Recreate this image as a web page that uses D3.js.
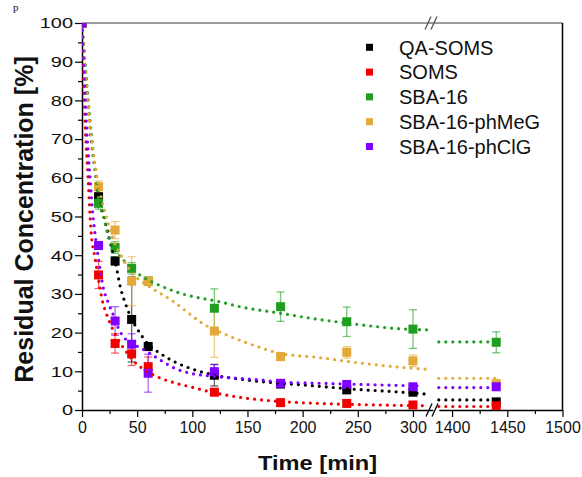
<!DOCTYPE html>
<html>
<head>
<meta charset="utf-8">
<script src="https://cdn.jsdelivr.net/npm/d3@7"></script>
<style>
  body { margin: 0; background: #fff; }
  svg { display: block; }
  text { font-family: "Liberation Sans", Arial, sans-serif; fill: #111; }
</style>
</head>
<body>
<div id="chart"></div>
<script>
// sampling times (min)
const times = [0, 15, 30, 45, 60, 120, 180, 240, 300, 1440];

const seriesNames = ['QA-SOMS', 'SOMS', 'SBA-16', 'SBA-16-phMeG', 'SBA-16-phClG'];
const seriesColors = ['#000000', '#f20000', '#1f9e22', '#e3aa3a', '#7f00ff'];

// residual concentration [%]
const qaSoms = [100, 55.1, 38.5, 23.4, 16.4, 9.0, 6.7, 5.2, 4.6, 2.1];
const soms = [100, 34.9, 17.2, 14.5, 11.2, 4.6, 1.9, 1.7, 1.3, 1.1];
const sba16 = [100, 53.4, 42.0, 36.6, 33.3, 26.3, 26.7, 22.8, 20.9, 17.5];
const sbaPhMeG = [100, 57.7, 46.5, 33.3, 33.3, 20.4, 13.8, 14.9, 12.7, 6.8];
const sbaPhClG = [100, 42.5, 23.0, 17.0, 9.5, 9.9, 6.9, 6.6, 6.0, 6.0];

// error bars (+/-)
const qaSomsErr = [0, 1.0, 1.0, 11.0, 1.0, 2.8, 0.6, 0.8, 0.6, 0.5];
const somsErr = [0, 3.5, 2.5, 3.0, 2.5, 0.8, 0.5, 0.5, 0.5, 0.3];
const sba16Err = [0, 1.5, 1.5, 1.5, 1.0, 5.0, 3.8, 3.8, 5.0, 2.7];
const sbaPhMeGErr = [0, 1.5, 2.2, 6.3, 1.0, 6.8, 1.0, 1.5, 1.5, 0.8];
const sbaPhClGErr = [0, 1.0, 3.7, 2.7, 4.9, 1.8, 0.8, 0.8, 0.5, 0.8];

// fitted curves as [time, value]
const qaSomsFit = [[0, 100], [3, 88], [6, 77], [10, 66], [15, 57], [20, 50], [25, 44], [30, 38.5], [35, 31.5],
  [40, 27], [45, 23.5], [50, 21], [60, 17], [70, 14.8], [85, 12.3], [100, 10.6], [120, 9.0], [140, 8.1],
  [160, 7.4], [180, 6.9], [200, 6.5], [220, 6.0], [250, 5.3], [280, 4.8], [313, 4.1]];
const somsFit = [[0, 100], [1.5, 85], [3, 73], [5.5, 60], [8, 47], [12, 39], [16, 32], [19, 27.6], [22, 25],
  [27, 21.4], [33, 18.1], [39, 15.5], [46, 12.9], [57, 10.3], [69, 8.5], [84, 7.0], [98, 6.0], [116, 4.7],
  [140, 3.4], [170, 2.4], [215, 1.7], [268, 1.3], [313, 1.1]];
const sba16Fit = [[0, 100], [3, 89], [6, 79], [9, 70], [12, 62], [15, 54.3], [19.5, 50], [24, 44.8], [30, 41.3],
  [39, 38.3], [45, 36.5], [54, 34.6], [72, 32], [90, 30.1], [124, 28], [150, 26.3], [171, 25.4], [210, 23.6],
  [253, 22.0], [283, 21.1], [313, 20.7]];
const sbaPhMeGFit = [[0, 100], [5, 80], [10, 67], [15, 58], [20, 52], [25, 47], [30, 43], [36, 39.6], [45, 35.5],
  [55, 33], [66, 31], [83, 28], [95, 25.4], [107, 22.8], [131, 19.4], [155, 16.8], [180, 14.6], [213, 13.6],
  [253, 12.1], [283, 11.2], [313, 10.5]];
const sbaPhClGFit = [[0, 100], [2, 86], [4, 74], [7, 61], [10, 50], [12.5, 44], [15, 39], [19, 32], [24, 27.6],
  [28.5, 24.5], [33, 21.1], [39, 18.5], [48, 16.8], [59, 15.1], [71, 12.9], [84, 10.8], [98, 9.5], [116, 8.8],
  [140, 8.2], [161, 7.8], [180, 7.2], [216, 6.9], [267, 6.5], [310, 6.2]];

// flat fit lines after the axis break
const qaSomsFitLate = [[1388, 2.6], [1440, 2.6]];
const somsFitLate = [[1388, 0.9], [1440, 0.9]];
const sba16FitLate = [[1388, 17.6], [1440, 17.6]];
const sbaPhMeGFitLate = [[1388, 8.2], [1440, 8.2]];
const sbaPhClGFitLate = [[1388, 5.8], [1440, 5.8]];

const yTicks = d3.range(0, 101, 10);
const yMinor = d3.range(5, 100, 10);
const xTicksA = [0, 50, 100, 150, 200, 250, 300];
const xMinorA = [25, 75, 125, 175, 225, 275];
const xTicksB = [1400, 1450, 1500];
const xMinorB = [1425, 1475];

const series = seriesNames.map((name, i) => ({
  name: name,
  color: seriesColors[i],
  values: [qaSoms, soms, sba16, sbaPhMeG, sbaPhClG][i],
  errors: [qaSomsErr, somsErr, sba16Err, sbaPhMeGErr, sbaPhClGErr][i],
  fit: [qaSomsFit, somsFit, sba16Fit, sbaPhMeGFit, sbaPhClGFit][i],
  fitLate: [qaSomsFitLate, somsFitLate, sba16FitLate, sbaPhMeGFitLate, sbaPhClGFitLate][i]
}));

const width = 582, height = 477;
const plot = { left: 82, right: 562.5, top: 23, bottom: 410 };

const svg = d3.select('#chart').append('svg')
  .attr('width', width)
  .attr('height', height);

// two x segments around the break
const xA = d3.scaleLinear().domain([0, 318]).range([plot.left, 432.8]);
const xB = d3.scaleLinear().domain([1388, 1500]).range([438.8, plot.right]);
const xPos = t => (t < 1000 ? xA(t) : xB(t));
const y = d3.scaleLinear().domain([0, 100]).range([plot.bottom, plot.top]);

svg.append('defs').append('clipPath').attr('id', 'plotClip')
  .append('rect')
  .attr('x', plot.left).attr('y', plot.top)
  .attr('width', plot.right - plot.left).attr('height', plot.bottom - plot.top);

// stray glyph left over from the figure caption above
svg.append('text')
  .attr('x', 13).attr('y', 11)
  .style('font-family', '"Liberation Serif", serif')
  .style('font-size', '11px')
  .text('p');

// frame: gray top, black right
svg.append('line')
  .attr('x1', plot.left).attr('x2', plot.right)
  .attr('y1', plot.top).attr('y2', plot.top)
  .attr('stroke', '#7a7a7a').attr('stroke-width', 1.5);
svg.append('line')
  .attr('x1', plot.right).attr('x2', plot.right)
  .attr('y1', plot.top).attr('y2', plot.bottom)
  .attr('stroke', '#000').attr('stroke-width', 1.5);

// axes
function styleAxis(g) {
  g.attr('font-family', null);
  g.selectAll('.domain').attr('stroke', '#000').attr('stroke-width', 1.5);
  g.selectAll('.tick line').attr('stroke', '#000').attr('stroke-width', 1.2);
  g.selectAll('.tick text').style('font-size', '16px').attr('fill', '#222');
}

const fmt = d3.format('d');

const gxA = svg.append('g')
  .attr('transform', `translate(0,${plot.bottom})`)
  .call(d3.axisBottom(xA).tickValues(xTicksA).tickFormat(fmt).tickSize(7).tickSizeOuter(0).tickPadding(5));
styleAxis(gxA);
const gxB = svg.append('g')
  .attr('transform', `translate(0,${plot.bottom})`)
  .call(d3.axisBottom(xB).tickValues(xTicksB).tickFormat(fmt).tickSize(7).tickSizeOuter(0).tickPadding(5));
styleAxis(gxB);

[[xA, xMinorA], [xB, xMinorB]].forEach(([sc, vals]) => {
  const g = svg.append('g')
    .attr('transform', `translate(0,${plot.bottom})`)
    .call(d3.axisBottom(sc).tickValues(vals).tickSize(4).tickFormat(''));
  g.select('.domain').remove();
  styleAxis(g);
});

const gy = svg.append('g')
  .attr('transform', `translate(${plot.left},0)`)
  .call(d3.axisLeft(y).tickValues(yTicks).tickFormat(fmt).tickSize(7).tickSizeOuter(0).tickPadding(2));
styleAxis(gy);
gy.selectAll('.tick text')
  .style('font-size', '15px')
  .attr('x', -9 / 1.33)
  .attr('transform', 'scale(1.33,1)');

const gyMinor = svg.append('g')
  .attr('transform', `translate(${plot.left},0)`)
  .call(d3.axisLeft(y).tickValues(yMinor).tickSize(4).tickFormat(''));
gyMinor.select('.domain').remove();
styleAxis(gyMinor);

// break marks
function breakMarks(cx, cy, color) {
  [-3, 3].forEach(dx => {
    svg.append('line')
      .attr('x1', cx + dx - 3).attr('y1', cy + 6.5)
      .attr('x2', cx + dx + 3).attr('y2', cy - 6.5)
      .attr('stroke', color).attr('stroke-width', 1.3);
  });
}
breakMarks(432, plot.bottom, '#000');
breakMarks(431, plot.top, '#555');

// axis titles
svg.append('text')
  .attr('transform', `translate(33,${(plot.top + plot.bottom) / 2 + 3}) rotate(-90)`)
  .attr('text-anchor', 'middle')
  .style('font-size', '25px')
  .style('font-weight', 'bold')
  .text('Residual Concentration [%]');

svg.append('text')
  .attr('x', 317.5).attr('y', 470)
  .attr('text-anchor', 'middle')
  .attr('textLength', 119)
  .attr('lengthAdjust', 'spacingAndGlyphs')
  .style('font-size', '21px')
  .style('font-weight', 'bold')
  .text('Time [min]');

const plotArea = svg.append('g').attr('clip-path', 'url(#plotClip)');

// error bars
series.forEach(s => {
  const g = plotArea.append('g')
    .attr('stroke', s.color).attr('stroke-opacity', 0.6).attr('stroke-width', 1.3);
  times.forEach((t, i) => {
    const e = s.errors[i];
    if (!e) return;
    const cx = xPos(t);
    const y1 = y(s.values[i] - e), y2 = y(s.values[i] + e);
    g.append('line').attr('x1', cx).attr('x2', cx).attr('y1', y1).attr('y2', y2);
    g.append('line').attr('x1', cx - 4).attr('x2', cx + 4).attr('y1', y1).attr('y2', y1);
    g.append('line').attr('x1', cx - 4).attr('x2', cx + 4).attr('y1', y2).attr('y2', y2);
  });
});

// markers
const markerSize = 9;
series.forEach(s => {
  plotArea.append('g').selectAll('rect')
    .data(times.map((t, i) => [t, s.values[i]]))
    .join('rect')
    .attr('x', d => xPos(d[0]) - markerSize / 2)
    .attr('y', d => y(d[1]) - markerSize / 2)
    .attr('width', markerSize)
    .attr('height', markerSize)
    .attr('fill', s.color);
});

// dotted fit curves
const line = d3.line()
  .x(d => xPos(d[0]))
  .y(d => y(d[1]))
  .curve(d3.curveMonotoneX);

series.forEach(s => {
  [s.fit, s.fitLate].forEach(pts => {
    plotArea.append('path')
      .datum(pts)
      .attr('d', line)
      .attr('fill', 'none')
      .attr('stroke', s.color)
      .attr('stroke-width', 3.2)
      .attr('stroke-linecap', 'round')
      .attr('stroke-dasharray', '0 7');
  });
});

// legend
const legend = svg.append('g');
series.forEach((s, i) => {
  const ly = 47.3 + i * 24.8;
  legend.append('rect')
    .attr('x', 366).attr('y', ly - 3.5)
    .attr('width', 7).attr('height', 7)
    .attr('fill', s.color);
  legend.append('text')
    .attr('x', 399).attr('y', ly)
    .attr('dy', '0.36em')
    .style('font-size', '20px')
    .text(s.name);
});
</script>
</body>
</html>
